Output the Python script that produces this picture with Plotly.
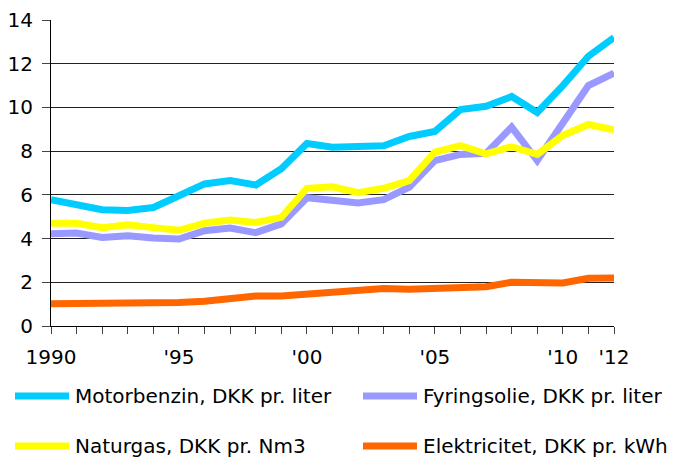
import plotly.graph_objects as go

# Priser 1990-2012
years = list(range(1990, 2013))
motorbenzin = [5.78, 5.52, 5.32, 5.28, 5.42, 5.96, 6.5, 6.65, 6.45, 7.2, 8.35, 8.18, 8.2, 8.25,
               8.67, 8.9, 9.9, 10.05, 10.5, 9.77, 11.0, 12.34, 13.2]
fyringsolie = [4.22, 4.25, 4.05, 4.13, 4.03, 3.98, 4.36, 4.48, 4.27, 4.67, 5.87, 5.73, 5.63, 5.78,
               6.35, 7.57, 7.85, 7.9, 9.1, 7.57, 9.27, 11.0, 11.57]
naturgas = [4.7, 4.7, 4.5, 4.63, 4.5, 4.38, 4.7, 4.85, 4.74, 4.97, 6.3, 6.37, 6.1, 6.3,
            6.65, 7.95, 8.25, 7.88, 8.2, 7.85, 8.72, 9.22, 8.97]
elektricitet = [1.02, 1.02, 1.1, 1.02, 1.05, 1.07, 1.13, 1.22, 1.37, 1.37, 1.47, 1.56, 1.65, 1.72,
                1.68, 1.72, 1.83, 1.8, 2.0, 1.95, 1.97, 2.18, 2.2]

names = ["Motorbenzin, DKK pr. liter", "Fyringsolie, DKK pr. liter",
         "Naturgas, DKK pr. Nm3", "Elektricitet, DKK pr. kWh"]
colors = ["#00CCFF", "#9999FF", "#FFFF00", "#FF6600"]
series = [motorbenzin, fyringsolie, naturgas, elektricitet]

tick_labels = {1990: "1990", 1995: "'95", 2000: "'00", 2005: "'05", 2010: "'10", 2012: "'12"}

W, H = 677, 459
L, R, T, B = 51, 614, 20, 326
font = "DejaVu Sans"

fig = go.Figure()
for name, col, vals in zip(names, colors, series):
    fig.add_trace(go.Scatter(x=years, y=vals, mode="lines", name=name,
                             line=dict(color=col, width=7), showlegend=False))

# egen forklaring (legend) under diagrammet
def px(x):
    return (x - L) / (R - L)

def py(y):
    return (B - y) / (B - T)

legend_pos = [(12, 396), (360, 396), (12, 446), (360, 446)]
for name, col, (lx, ly) in zip(names, colors, legend_pos):
    fig.add_shape(type="line", xref="paper", yref="paper",
                  x0=px(lx + 3), x1=px(lx + 57), y0=py(ly), y1=py(ly),
                  line=dict(color=col, width=7))
    fig.add_annotation(x=px(lx + 61), y=py(ly), xref="paper", yref="paper",
                       text=name, showarrow=False, xanchor="left", yanchor="middle",
                       font=dict(family=font, size=20, color="black"))

fig.update_layout(
    width=W, height=H,
    margin=dict(l=L, r=W - R, t=T, b=H - B, pad=0),
    paper_bgcolor="white", plot_bgcolor="white",
    font=dict(family=font, size=20, color="black"),
    xaxis=dict(range=[1990, 2012], tickvals=years,
               ticktext=[tick_labels.get(y, "") for y in years],
               ticks="outside", ticklen=7, tickcolor="#444", showgrid=False,
               showline=True, linecolor="black", zeroline=False,
               ticklabelstandoff=6, automargin=False),
    yaxis=dict(range=[0, 14], dtick=2, ticks="outside", ticklen=8, tickcolor="#444",
               showgrid=True, gridcolor="#222", gridwidth=1, showline=True,
               linecolor="black", zeroline=False, ticklabelstandoff=5,
               automargin=False),
)

# fjern browserens standardmargen omkring siden
fig.write_html("out.html", config={"displayModeBar": False},
               post_script="document.body.style.margin='0';")
